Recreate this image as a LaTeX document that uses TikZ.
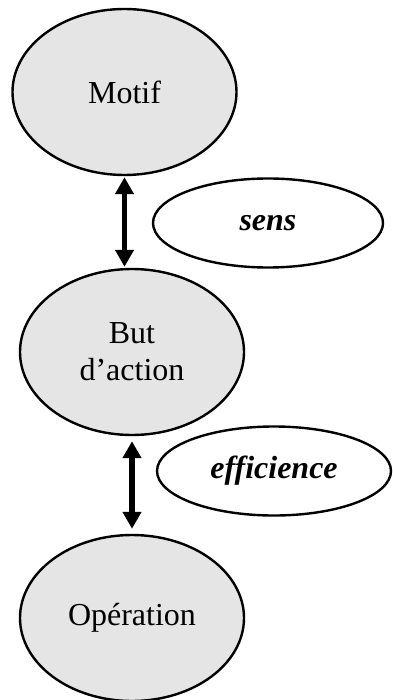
\documentclass[tikz,border=0pt]{standalone}
\usepackage{fontspec}
\setmainfont{Liberation Serif}
\usetikzlibrary{shapes.geometric,arrows.meta}

\begin{document}
\begin{tikzpicture}[x=1pt,y=-1pt,
    phase/.style={ellipse, draw, line width=2.4pt, fill=black!10, inner sep=0pt,
      minimum width=224pt, minimum height=166pt, align=center,
      font=\fontsize{32}{37}\selectfont},
    note/.style={ellipse, draw, line width=2.4pt, fill=white, inner sep=0pt,
      minimum height=89pt, font=\fontsize{32}{37}\selectfont\bfseries\itshape},
    link/.style={line width=5.5pt,
      {Triangle[width=18pt,length=17pt]}-{Triangle[width=18pt,length=17pt]}}]
  \useasboundingbox (0,0) rectangle (392,700);
  % activity levels
  \node [phase] (motif) at (124.5,92) {Motif};
  \node [phase] (but) at (132,352) {But\\d'action};
  \node [phase] (operation) at (132,618) {Opération};
  % meanings
  \node [note, minimum width=230pt] (sens) at (268,223) {sens};
  \node [note, minimum width=234pt] (efficience) at (274,471) {efficience};
  % Relations
  \draw [link, shorten <=1pt, shorten >=1pt] (motif.south) -- (motif.south |- but.north);
  \draw [link, shorten <=5pt, shorten >=5pt] (but.south) -- (operation.north);
\end{tikzpicture}
\end{document}
